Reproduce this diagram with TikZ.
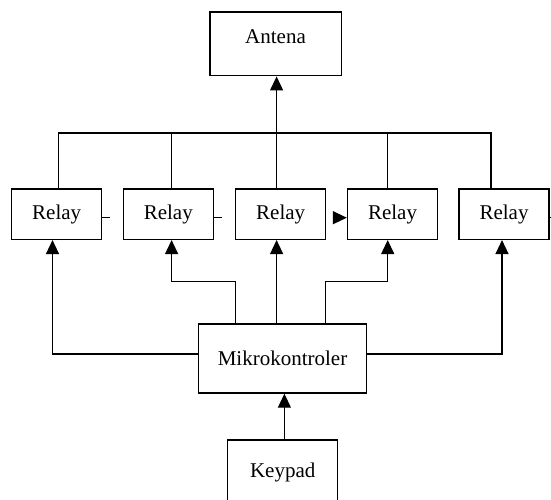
\documentclass[tikz,border=0pt]{standalone}
\usepackage{fontspec}
\setmainfont{Liberation Serif}
\usetikzlibrary{arrows.meta}
\begin{document}
\begin{tikzpicture}[x=1pt,y=-1pt,
  box/.style={draw,line width=1.4pt,rectangle,inner sep=0pt},
  lbl/.style={inner sep=0pt,font=\fontsize{21}{25}\selectfont},
  relaybox/.style={box,minimum width=90pt,minimum height=50.3pt,font=\fontsize{21}{25}\selectfont},
  wire/.style={line width=1.3pt},
  arr/.style={wire,-{Triangle[length=14pt,width=13pt]}}]
\useasboundingbox (0,0) rectangle (551,499);
\clip (0,0) rectangle (551,499);
% Antena
\node[box,minimum width=131.4pt,minimum height=63.7pt] (ant) at (275.5,43.9) {};
\node[lbl] (antT) at (275.5,37) {Antena};
% Relays
\node[relaybox] (r1) at (56.7,214.2) {Relay};
\node[relaybox] (r2) at (168.3,214.2) {Relay};
\node[relaybox] (r3) at (280.7,214.2) {Relay};
\node[relaybox] (r4) at (392.5,214.2) {Relay};
\node[relaybox] (r5) at (504,214.2) {Relay};
% Mikrokontroler
\node[box,minimum width=168pt,minimum height=69pt,font=\fontsize{21}{25}\selectfont] (mk) at (282.5,358.5) {Mikrokontroler};
% Keypad
\node[box,minimum width=110pt,minimum height=80pt] (kp) at (282.7,480) {};
\node[lbl] (kpT) at (282.7,472.3) {Keypad};
% bus to antenna
\coordinate (bus) at (276.6,133);
\draw[wire] (r1.north -| 58.3,0) |- (bus);
\draw[wire] (r2.north -| 171.7,0) |- (bus);
\draw[wire] (r4.north -| 387.3,0) |- (bus);
\draw[wire] (r5.north -| 491,0) |- (bus);
\draw[wire] (r3.north -| 276.6,0) -- (bus);
\draw[arr] (bus) -- (ant.south -| bus);
% stubs between relays
\coordinate (s1) at (110,217.7);
\coordinate (s2) at (221.7,217.7);
\coordinate (s3) at (334,217.7);
\coordinate (s5) at (560,217.7);
\draw[wire] (r1.east |- s1) -- (s1);
\draw[wire] (r2.east |- s2) -- (s2);
\draw[arr] (s3) -- (r4.west |- s3);
\draw[wire] (r5.east |- s5) -- (s5);
% microcontroller to relays
\draw[arr] (mk.west |- 0,354) -| (r1.south -| 52.5,0);
\draw[arr] (mk.north -| 235.2,0) |- (203,281.7) -| (r2.south -| 171.6,0);
\draw[arr] (mk.north -| 276.6,0) -- (r3.south -| 276.6,0);
\draw[arr] (mk.north -| 325.8,0) |- (360,281.7) -| (r4.south -| 387.7,0);
\draw[arr] (mk.east |- 0,354) -| (r5.south -| 502,0);
% keypad to microcontroller
\draw[arr] (kp.north -| 284.4,0) -- (mk.south -| 284.4,0);
\end{tikzpicture}
\end{document}
